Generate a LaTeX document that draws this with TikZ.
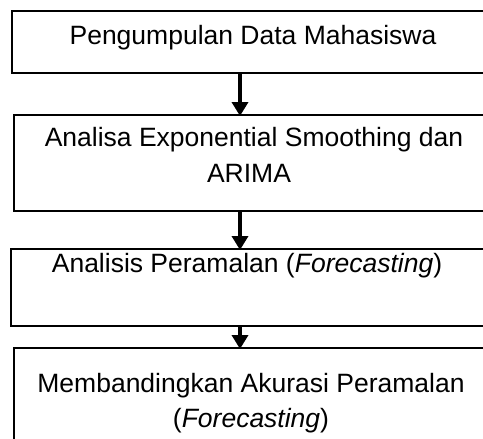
\documentclass[tikz,border=0pt]{standalone}
\usepackage{fontspec}
\setmainfont{Liberation Sans}
\usetikzlibrary{arrows.meta}
\begin{document}
\begin{tikzpicture}[x=1pt,y=-1pt,
  boxline/.style={draw=black,line width=1.2pt},
  txt/.style={anchor=base,inner sep=0pt,font=\fontsize{26.5}{36}\selectfont},
  flow/.style={line width=4pt,-{Triangle[width=16pt,length=14pt]}}]
\useasboundingbox (0,0) rectangle (483,439);
\clip (0,0) rectangle (483,439);
\fill[white] (0,0) rectangle (483,439);
% boxes
\draw[boxline] (12,11) rectangle (500,73);
\draw[boxline] (14,115) rectangle (500,211);
\draw[boxline] (11,249) rectangle (500,326);
\draw[boxline] (14,348) rectangle (500,460);
\coordinate (b1s) at (240,73);
\coordinate (b2n) at (240,116);
\coordinate (b2s) at (240,211);
\coordinate (b3n) at (240,250);
\coordinate (b3s) at (240,326);
\coordinate (b4n) at (240,349);
% texts
\node[txt] (t1) at (253,45) {Pengumpulan Data Mahasiswa};
\node[txt] (t2a) at (254,146) {Analisa Exponential Smoothing dan};
\node[txt] (t2b) at (249,182) {ARIMA};
\node[txt] (t3) at (247,272) {Analisis Peramalan (\textit{Forecasting})};
\node[txt] (t4a) at (251,392) {Membandingkan Akurasi Peramalan};
\node[txt] (t4b) at (251,427) {(\textit{Forecasting})};
% arrows
\draw[flow] (b1s) -- (b2n);
\draw[flow] (b2s) -- (b3n);
\draw[flow] (b3s) -- (b4n);
\end{tikzpicture}
\end{document}
